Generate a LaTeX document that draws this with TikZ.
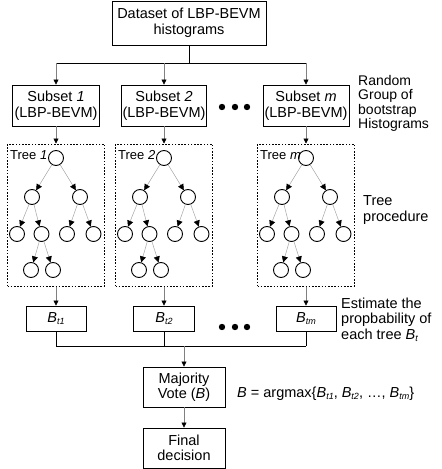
\documentclass[tikz,border=0pt]{standalone}
\usepackage{fontspec}
\setmainfont{Liberation Sans}
\usetikzlibrary{arrows.meta}
\newcommand\Bsub[1]{\textit{B}\raisebox{-0.25ex}{\fontsize{9}{9}\selectfont\textit{#1}}}

\begin{document}
\begin{tikzpicture}[x=1pt, y=-1pt,
  font=\fontsize{14.5}{15.5}\selectfont,
  box/.style={draw, line width=0.9pt, align=center, inner sep=0pt},
  arr/.style={gray, line width=0.6pt, -{Triangle[length=5pt, width=5pt, color=black]}},
  edge/.style={gray!70, line width=0.5pt, -{Triangle[length=6pt, width=6pt, color=black]}},
  lnk/.style={line width=0.9pt},
  treebox/.style={draw, line width=1pt, dash pattern=on 1.6pt off 1.6pt,
    minimum width=97, minimum height=142, inner sep=0pt},
  leaf/.style={draw, circle, line width=0.9pt, minimum size=15pt, inner sep=0pt},
  txt/.style={align=left, anchor=west, inner sep=0pt}]
\useasboundingbox (0,0) rectangle (442,469);
\def\ca{56}
\def\cb{164}
\def\cm{306}
% dataset and the bootstrap subsets
\node[box, minimum width=154, minimum height=44] (data) at (189,23) {Dataset of LBP-BEVM\\histograms};
\node[box, minimum width=87, minimum height=41] (s1) at (\ca,105.5) {Subset \textit{1}\\(LBP-BEVM)};
\node[box, minimum width=85, minimum height=41] (s2) at (\cb,105.5) {Subset \textit{2}\\(LBP-BEVM)};
\node[box, minimum width=86, minimum height=41] (sm) at (\cm,105.5) {Subset \textit{m}\\(LBP-BEVM)};
\coordinate (split) at (189,63);
\coordinate (j1) at (\ca,63);
\coordinate (j2) at (\cb,63);
\coordinate (jm) at (\cm,63);
\draw[lnk] (data) -- (split);
\draw[lnk] (j1) -- (jm);
\draw[arr] (j1) -- (s1);
\draw[arr] (j2) -- (s2);
\draw[arr] (jm) -- (sm);
\foreach \x in {222,235,247} \fill (\x,107) circle (3.2pt);
\node[txt, font=\fontsize{14}{14.5}\selectfont] (rgtext) at (358,103.5) {Random\\Group of\\bootstrap\\Histograms};
% the trees
\foreach \x/\n/\lab in {\ca/1/\textit{1}, \cb/2/\textit{2}, \cm/m/\textit{m}} {
  \node[treebox] (f\n) at (\x,215) {};
  \node[txt, font=\fontsize{13}{13}\selectfont] (tl\n) at (\x-46,155) {Tree \lab};
  \node[leaf] (r\n)   at (\x,158) {};
  \node[leaf] (a\n)   at (\x-24,197) {};
  \node[leaf] (b\n)   at (\x+24,197) {};
  \node[leaf] (aa\n)  at (\x-39,234) {};
  \node[leaf] (ab\n)  at (\x-14.5,234) {};
  \node[leaf] (ba\n)  at (\x+11,234) {};
  \node[leaf] (bb\n)  at (\x+37.5,234) {};
  \node[leaf] (aba\n) at (\x-25,270) {};
  \node[leaf] (abb\n) at (\x-3,270) {};
  \draw[edge] (r\n) -- (a\n);
  \draw[edge] (r\n) -- (b\n);
  \draw[edge] (a\n) -- (aa\n);
  \draw[edge] (a\n) -- (ab\n);
  \draw[edge] (b\n) -- (ba\n);
  \draw[edge] (b\n) -- (bb\n);
  \draw[edge] (ab\n) -- (aba\n);
  \draw[edge] (ab\n) -- (abb\n);
}
\draw[arr] (s1) -- (f1);
\draw[arr] (s2) -- (f2);
\draw[arr] (sm) -- (fm);
\node[txt] (tptext) at (363,210) {Tree\\procedure};
% tree probabilities
\node[box, minimum width=60, minimum height=25] (p1) at (\ca,318.5) {\Bsub{t1}};
\node[box, minimum width=61, minimum height=25] (p2) at (\cb,318.5) {\Bsub{t2}};
\node[box, minimum width=60, minimum height=25] (pm) at (\cm,318.5) {\Bsub{tm}};
\draw[arr] (f1) -- (p1);
\draw[arr] (f2) -- (p2);
\draw[arr] (fm) -- (pm);
\foreach \x in {222,235,247} \fill (\x,327) circle (3.2pt);
\node[txt] (estext) at (341,319.5) {Estimate the\\propbability of\\each tree \Bsub{t}};
% majority vote
\coordinate (k1) at (\ca,346);
\coordinate (k2) at (\cb,346);
\coordinate (km) at (\cm,346);
\coordinate (kv) at (184,346);
\draw[lnk] (p1) -- (k1);
\draw[lnk] (p2) -- (k2);
\draw[lnk] (pm) -- (km);
\draw[lnk] (k1) -- (km);
\node[box, minimum width=82, minimum height=40] (vote) at (184,387) {Majority\\Vote (\textit{B})};
\node[box, minimum width=82, minimum height=40] (final) at (184,448) {Final\\decision};
\draw[arr] (kv) -- (vote);
\draw[arr] (vote) -- (final);
\node[txt] (argtext) at (237,394) {\textit{B} = argmax\{\Bsub{t1}, \Bsub{t2}, …, \Bsub{tm}\}};
\end{tikzpicture}
\end{document}
